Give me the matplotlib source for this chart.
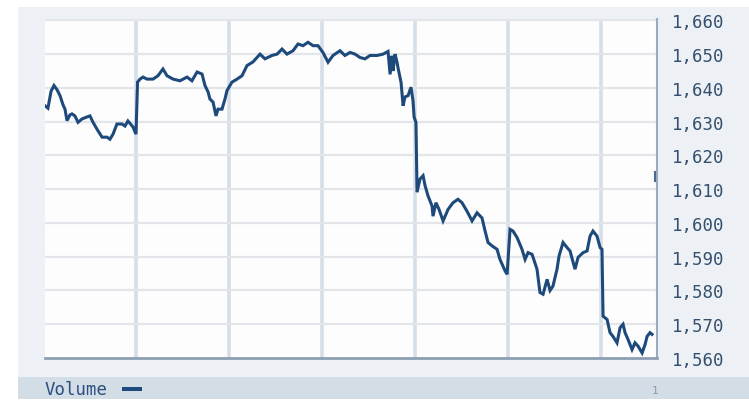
import matplotlib
matplotlib.use('Agg')
import matplotlib.pyplot as plt
from matplotlib.patches import Rectangle
from matplotlib.ticker import FuncFormatter

# minutes since open
minutes = [1.3, 3.2, 5.2, 7.1, 9.0, 11.0, 12.9, 14.2, 15.5, 17.4, 18.7, 20.6, 22.6, 25.2,
           28.4, 30.3, 32.3, 34.8, 38.1, 41.3, 43.2, 45.2, 47.7, 51.0, 52.9, 54.8, 58.1,
           60.0, 61.0, 62.6, 64.5, 67.1, 71.0, 74.2, 77.4, 80.0, 83.9, 88.4, 92.9, 96.1,
           99.4, 102.6, 104.5, 106.5, 107.7, 109.7, 111.6, 112.9, 115.5, 117.4, 118.7,
           121.9, 125.2, 128.4, 131.6, 135.5, 140.0, 143.2, 147.7, 151.0, 154.2, 157.4,
           161.3, 164.5, 167.7, 171.0, 174.2, 177.4, 180.6, 183.9, 187.1, 191.6, 194.8,
           198.1, 201.3, 204.5, 207.7, 211.0, 215.5, 219.4, 222.6, 223.9, 225.2, 225.8,
           227.1, 228.4, 229.0, 231.0, 232.3, 233.5, 235.5, 237.4, 238.7, 239.4, 240.6,
           241.3, 243.2, 245.2, 246.5, 248.4, 251.0, 251.6, 253.5, 255.5, 258.1, 261.3,
           264.5, 267.7, 270.3, 273.5, 276.8, 280.0, 283.2, 285.2, 287.1, 289.7, 292.9,
           294.8, 298.1, 299.4, 301.3, 303.2, 305.8, 309.0, 311.0, 312.9, 315.5, 318.7,
           320.6, 322.6, 325.2, 327.1, 329.0, 331.6, 332.9, 335.5, 338.1, 340.0, 343.2,
           345.2, 348.4, 351.0, 352.9, 354.8, 357.4, 359.4, 360.6, 361.3, 363.9, 365.8,
           367.7, 370.3, 372.3, 374.2, 375.5, 377.4, 380.0, 381.9, 383.9, 386.5, 388.4,
           389.7, 391.6, 392.9]

price = [1634.7, 1634.0, 1639.0, 1640.7, 1639.5, 1637.7, 1635.0, 1633.7, 1630.3, 1632.0,
         1632.3, 1631.7, 1629.8, 1630.8, 1631.4, 1631.7, 1629.8, 1627.8, 1625.4, 1625.4,
         1624.8, 1626.3, 1629.3, 1629.3, 1628.7, 1630.2, 1628.4, 1626.3, 1641.7, 1642.6,
         1643.2, 1642.6, 1642.6, 1643.6, 1645.6, 1643.6, 1642.6, 1642.1, 1643.2, 1642.1,
         1644.7, 1644.1, 1640.7, 1638.8, 1636.7, 1635.8, 1631.7, 1633.7, 1633.7, 1636.7,
         1639.2, 1641.7, 1642.6, 1643.6, 1646.6, 1647.7, 1650.0, 1648.6, 1649.6, 1650.0,
         1651.5, 1650.0, 1651.0, 1653.0, 1652.5, 1653.5, 1652.5, 1652.5, 1650.5, 1647.6,
         1649.6, 1651.0, 1649.6, 1650.5, 1650.0, 1649.0, 1648.6, 1649.6, 1649.6, 1650.0,
         1650.8, 1644.0, 1649.5, 1645.0, 1650.0, 1647.6, 1646.0, 1641.6, 1634.7, 1637.3,
         1637.7, 1640.2, 1636.2, 1631.4, 1629.8, 1609.1, 1613.0, 1614.0, 1611.0, 1608.0,
         1605.0, 1602.0, 1606.0, 1604.0, 1600.6, 1604.0, 1606.0, 1607.0, 1606.0, 1603.5,
         1600.6, 1603.0, 1601.5, 1597.6, 1594.2, 1593.2, 1592.2, 1589.2, 1585.8, 1584.8,
         1598.1, 1597.6, 1595.7, 1592.2, 1589.2, 1591.2, 1590.7, 1586.3, 1579.4, 1578.9,
         1583.3, 1580.0, 1581.3, 1586.3, 1590.2, 1594.2, 1592.7, 1591.7, 1586.3, 1589.8,
         1591.2, 1591.7, 1596.1, 1597.6, 1596.1, 1592.7, 1592.2, 1572.4, 1571.4, 1567.5,
         1566.4, 1564.5, 1569.0, 1570.0, 1567.5, 1565.5, 1562.5, 1564.5, 1563.5, 1561.5,
         1564.0, 1566.4, 1567.5, 1567.0]

y_ticks = [1560, 1570, 1580, 1590, 1600, 1610, 1620, 1630, 1640, 1650, 1660]
hour_lines = [60, 120, 180, 240, 300, 360]
last_mark = 1613.8

fig = plt.figure(figsize=(7.49, 4.06), dpi=100)
fig.patch.set_facecolor('white')

# panel backgrounds (behind the axes)
fig.patches.append(Rectangle((18 / 749, 6 / 406), (749 - 18) / 749, (399 - 7) / 406,
                             transform=fig.transFigure, facecolor='#edf1f5',
                             edgecolor='none', zorder=-2))
fig.patches.append(Rectangle((18 / 749, 6 / 406), (749 - 18) / 749, 22 / 406,
                             transform=fig.transFigure, facecolor='#d3dde6',
                             edgecolor='none', zorder=-1))

ax = fig.add_axes([45 / 749, 47 / 406, 612 / 749, 339 / 406])
ax.set_zorder(1)
ax.set_facecolor('#fdfdfe')

ax.plot(minutes, price, color='#1d4a7a', lw=2.2, solid_joinstyle='miter', zorder=3)
ax.plot([394.8, 394.8], [last_mark - 1.3, last_mark + 1.3], color='#4a6a8e', lw=1.5, zorder=3)

for h in hour_lines:
    ax.axvline(h, color='#d6dee7', lw=2.6, zorder=1)
for v in y_ticks[1:]:
    ax.axhline(v, color='#e2e6eb', lw=1.6, zorder=1)

ax.set_xlim(1.3, 396.1)
ax.set_ylim(1560, 1660.4)
ax.set_xticks([])
ax.set_yticks(y_ticks)
ax.yaxis.tick_right()
ax.yaxis.set_major_formatter(FuncFormatter(lambda v, p: '{:,.0f}'.format(v)))
ax.tick_params(axis='y', length=0, pad=11, labelsize=12.5, labelcolor='#34506e')
for lbl in ax.get_yticklabels():
    lbl.set_family('DejaVu Sans Mono')

for s in ['top', 'left']:
    ax.spines[s].set_visible(False)
ax.spines['bottom'].set_color('#8c9fb3')
ax.spines['bottom'].set_linewidth(2)
ax.spines['right'].set_color('#9aabbd')
ax.spines['right'].set_linewidth(1.5)

fig.text(45 / 749, 1 - 390 / 406, 'Volume', family='DejaVu Sans Mono', fontsize=12.5,
         color='#2c4f80', va='center', ha='left', zorder=3)
fig.patches.append(Rectangle((122 / 749, 1 - 392 / 406), 20 / 749, 4 / 406,
                             transform=fig.transFigure, facecolor='#1d4a7a',
                             edgecolor='none', zorder=3))
fig.text(655 / 749, 1 - 391 / 406, '1', family='DejaVu Sans Mono', fontsize=8,
         color='#8a9aab', va='center', ha='center', zorder=3)

fig.savefig('out.png', dpi=100)
